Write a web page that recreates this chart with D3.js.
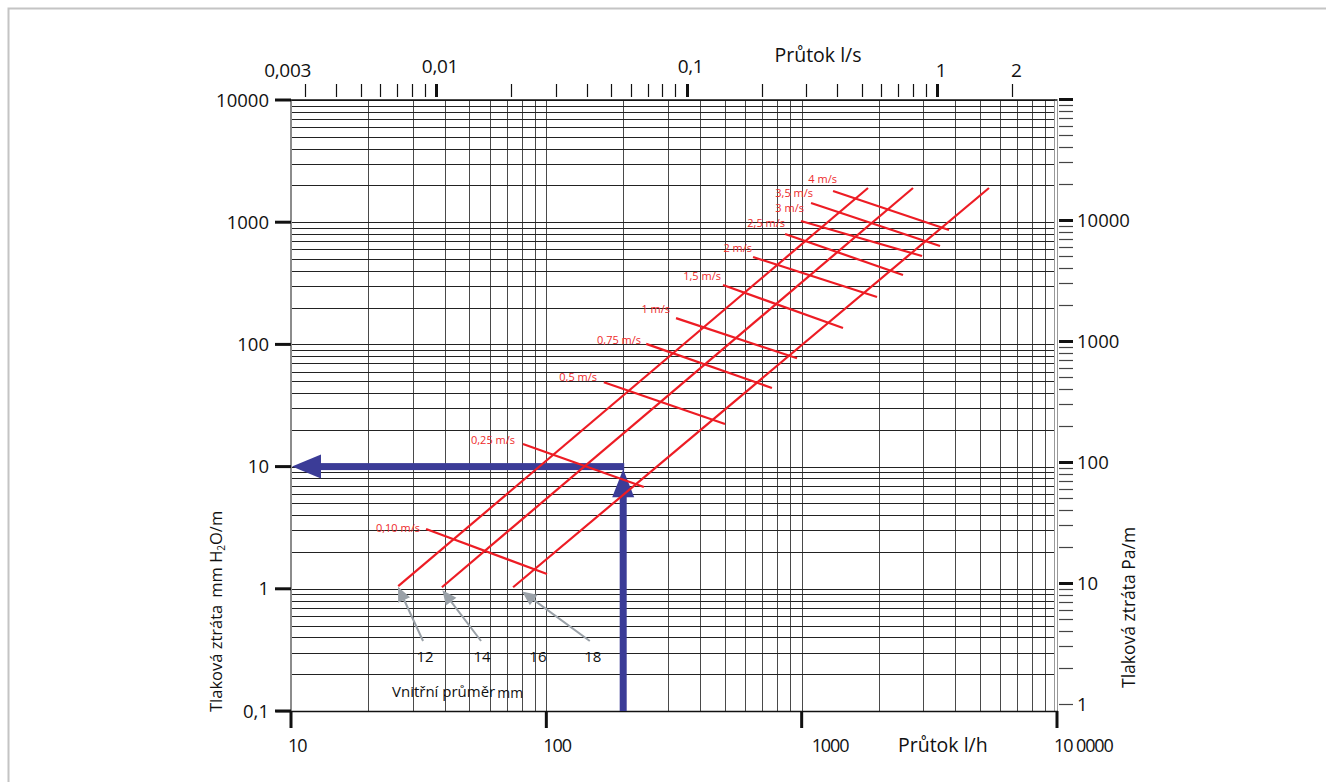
<!DOCTYPE html>
<meta charset="utf-8">
<style>
body { margin: 0; background: #fff; }
svg { font-family: "Open Sans", sans-serif; display: block; }
.grid-x line { stroke: #4a4a4a; stroke-width: 1; }
.grid-y line { stroke: #222; stroke-width: 1; }
.vel text { fill: #ee2b2b; font-size: 11px; }
</style>
<svg width="1326" height="782"></svg>
<script src="https://d3js.org/d3.v7.min.js"></script>
<script>

// axis ticks and labels
var flowTicks = [10, 100, 1000, 10000];
var flowLabels = ["10", "100", "1000", "10 0000"];
var lossTicks = [0.1, 1, 10, 100, 1000, 10000];
var lossLabels = ["0,1", "1", "10", "100", "1000", "10000"];
var paTicks = [1, 10, 100, 1000, 10000];
var paLabels = ["1", "10", "100", "1000", "10000"];
var lsLabelValues = [0.003, 0.01, 0.1, 1, 2];
var lsLabels = ["0,003", "0,01", "0,1", "1", "2"];

// pipe lines (inner diameter), flow l/h and loss mm H2O/m
var pipeFlowStart = [26.3, 39.0, 74.1];
var pipeFlowEnd = [1819, 2730, 5415];
var pipeLossStart = [1.05, 1.03, 1.03];
var pipeLossEnd = [1905, 1905, 1905];

// diameter labels and pointer arrows
var diamLabels = ["12", "14", "16", "18"];
var diamLabelFlow = [33.5, 56, 92.7, 152];
var diamLabelLoss = 0.25;
var pointerTailFlow = [32.9, 55.5, 148];
var pointerTailLoss = [0.374, 0.374, 0.374];
var pointerTipFlow = [26.5, 39.7, 81.8];
var pointerTipLoss = [0.996, 0.94, 0.925];

// velocity lines
var velLabels = ["0,10 m/s", "0,25 m/s", "0,5 m/s", "0,75 m/s", "1 m/s", "1,5 m/s",
                 "2 m/s", "2,5 m/s", "3 m/s", "3,5 m/s", "4 m/s"];
var velFlowStart = [33.8, 81, 168, 246, 322, 492, 645, 861, 994, 1088, 1327];
var velFlowEnd = [100.6, 241, 501, 765, 959, 1452, 1973, 2494, 2960, 3483, 3777];
var velLossStart = [3.09, 15.3, 49, 101, 164, 306, 519, 801, 1023, 1436, 1800];
var velLossEnd = [1.32, 6.8, 22.3, 44, 77, 136, 244, 370, 529, 639, 864];
var velLabelFlow = [32.0, 75.4, 158, 235, 305, 483, 639, 861, 1021, 1108, 1375];
var velLabelLoss = [3.14, 16.5, 54, 109, 195, 363, 615, 985, 1307, 1734, 2257];

// worked example
var exampleFlow = 200;
var exampleLoss = 10;
var exampleTipLoss = 9.5;

var svg = d3.select("svg");

var x = d3.scaleLog().domain([10, 10000]).range([291, 1057]);
var y = d3.scaleLog().domain([0.1, 10000]).range([711, 100]);
var yPa = d3.scaleLog().domain([1, 100000]).range([704, 99]);
var xTop = d3.scaleLog().domain([0.01, 1]).range([436, 937]);

function isDecade(v) {
  var l = Math.log10(v);
  return Math.abs(l - Math.round(l)) < 1e-6;
}
function px(v) { return Math.round(v) + 0.5; }

// page frame (top and left only)
svg.append("path")
    .attr("d", "M8.5,782V8.5H1326")
    .attr("fill", "none")
    .attr("stroke", "#c4c4c4")
    .attr("stroke-width", 2);

// grid
svg.append("g").attr("class", "grid-x")
  .selectAll("line")
  .data(x.ticks())
  .enter().append("line")
    .attr("x1", function(d) { return px(x(d)); })
    .attr("x2", function(d) { return px(x(d)); })
    .attr("y1", 100)
    .attr("y2", 711);

svg.append("g").attr("class", "grid-y")
  .selectAll("line")
  .data(y.ticks())
  .enter().append("line")
    .attr("x1", 291)
    .attr("x2", 1055)
    .attr("y1", function(d) { return px(y(d)); })
    .attr("y2", function(d) { return px(y(d)); });

// frame lines
svg.append("line").attr("x1", 291).attr("x2", 291).attr("y1", 100).attr("y2", 711)
    .attr("stroke", "#8c8c8c").attr("stroke-width", 2);
svg.append("line").attr("x1", 1054.5).attr("x2", 1054.5).attr("y1", 99).attr("y2", 711)
    .attr("stroke", "#999").attr("stroke-width", 1);
svg.append("line").attr("x1", 1057.5).attr("x2", 1057.5).attr("y1", 99).attr("y2", 711)
    .attr("stroke", "#999").attr("stroke-width", 1);
svg.append("line").attr("x1", 276).attr("x2", 1058).attr("y1", 711.5).attr("y2", 711.5)
    .attr("stroke", "#111").attr("stroke-width", 1.5);
svg.append("line").attr("x1", 291).attr("x2", 1057).attr("y1", 100).attr("y2", 100)
    .attr("stroke", "#111").attr("stroke-width", 1.5);

// left ticks + labels
var leftAxis = svg.append("g");
leftAxis.selectAll("line").data(lossTicks).enter().append("line")
    .attr("x1", 275).attr("x2", 291)
    .attr("y1", function(d) { return y(d); })
    .attr("y2", function(d) { return y(d); })
    .attr("stroke", "#111").attr("stroke-width", 3);
leftAxis.selectAll("text").data(lossTicks).enter().append("text")
    .attr("x", 269)
    .attr("y", function(d) { return y(d); })
    .attr("dy", "0.36em")
    .attr("text-anchor", "end")
    .attr("font-size", 18.5)
    .attr("fill", "#111")
    .text(function(d, i) { return lossLabels[i]; });

// bottom ticks + labels
var bottomAxis = svg.append("g");
bottomAxis.selectAll("line").data(flowTicks).enter().append("line")
    .attr("x1", function(d) { return x(d); })
    .attr("x2", function(d) { return x(d); })
    .attr("y1", 711).attr("y2", 728)
    .attr("stroke", "#111").attr("stroke-width", 3);
bottomAxis.selectAll("text").data(flowTicks).enter().append("text")
    .attr("x", function(d, i) { return x(d) + (i === 2 ? 10 : -3); })
    .attr("y", 752)
    .attr("font-size", 18)
    .attr("letter-spacing", -1.1)
    .attr("fill", "#111")
    .text(function(d, i) { return flowLabels[i]; });
svg.append("text")
    .attr("x", 898).attr("y", 752)
    .attr("font-size", 19.5)
    .attr("fill", "#111")
    .text("Průtok l/h");

// right ticks + labels (Pa/m)
var rightAxis = svg.append("g");
rightAxis.selectAll("line").data(yPa.ticks()).enter().append("line")
    .attr("x1", 1059).attr("x2", 1073)
    .attr("y1", function(d) { return px(yPa(d)); })
    .attr("y2", function(d) { return px(yPa(d)); })
    .attr("stroke", function(d) { return isDecade(d) && d > 1 ? "#111" : "#444"; })
    .attr("stroke-width", function(d) { return isDecade(d) && d > 1 ? 3 : 1.2; });
rightAxis.selectAll("text").data(paTicks).enter().append("text")
    .attr("x", 1077)
    .attr("y", function(d) { return yPa(d); })
    .attr("dy", "0.36em")
    .attr("font-size", 18.5)
    .attr("fill", "#111")
    .text(function(d, i) { return paLabels[i]; });

// top ticks + labels (l/s)
var topAxis = svg.append("g");
topAxis.selectAll("line").data(d3.scaleLog().domain([0.003, 2]).ticks()).enter().append("line")
    .attr("x1", function(d) { return px(xTop(d)); })
    .attr("x2", function(d) { return px(xTop(d)); })
    .attr("y1", 84).attr("y2", 97)
    .attr("stroke", "#111")
    .attr("stroke-width", function(d) { return isDecade(d) ? 3 : 1.2; });
topAxis.selectAll("text").data(lsLabelValues).enter().append("text")
    .attr("x", function(d, i) { return xTop(d) + (i === 0 ? 6 : 4); })
    .attr("y", function(d, i) { return i === 1 || i === 2 ? 73 : 77; })
    .attr("text-anchor", function(d, i) { return i === 0 ? "end" : "middle"; })
    .attr("font-size", 19)
    .attr("letter-spacing", -0.3)
    .attr("fill", "#111")
    .text(function(d, i) { return lsLabels[i]; });
svg.append("text")
    .attr("x", 818).attr("y", 62)
    .attr("text-anchor", "middle")
    .attr("font-size", 19.5)
    .attr("fill", "#111")
    .text("Průtok  l/s");

// axis titles
var lt = svg.append("text")
    .attr("transform", "translate(222,712) rotate(-90)")
    .attr("font-size", 16.5)
    .attr("fill", "#111");
lt.append("tspan").text("Tlaková ztráta");
lt.append("tspan").attr("dx", 7).text("mm H");
lt.append("tspan").attr("font-size", 10).attr("dy", 3).text("2");
lt.append("tspan").attr("dy", -3).text("O/m");

svg.append("text")
    .attr("transform", "translate(1135,688) rotate(-90)")
    .attr("font-size", 17.5)
    .attr("fill", "#111")
    .text("Tlaková ztráta Pa/m");

// worked example (blue arrows)
var blue = "#3b3c97";
var ex = x(exampleFlow), ey = y(exampleLoss), x0 = x(10), yb = y(0.1);
svg.append("rect")
    .attr("x", x0 + 28).attr("y", ey - 3.5)
    .attr("width", ex + 1 - (x0 + 28)).attr("height", 7)
    .attr("fill", blue);
svg.append("path")
    .attr("d", "M" + (x0 + 1) + "," + ey + "L" + (x0 + 30) + "," + (ey - 12) + "L" + (x0 + 30) + "," + (ey + 12) + "Z")
    .attr("fill", blue);
var tipY = y(exampleTipLoss);
svg.append("rect")
    .attr("x", ex - 3.5).attr("y", tipY + 26)
    .attr("width", 7).attr("height", yb - (tipY + 26))
    .attr("fill", blue);
svg.append("path")
    .attr("d", "M" + ex + "," + tipY + "L" + (ex - 11) + "," + (tipY + 28) + "L" + (ex + 11) + "," + (tipY + 28) + "Z")
    .attr("fill", blue);

// red pipe lines
var red = "#ed1c24";
svg.append("g").selectAll("line").data(pipeFlowStart).enter().append("line")
    .attr("x1", function(d) { return x(d); })
    .attr("y1", function(d, i) { return y(pipeLossStart[i]); })
    .attr("x2", function(d, i) { return x(pipeFlowEnd[i]); })
    .attr("y2", function(d, i) { return y(pipeLossEnd[i]); })
    .attr("stroke", red).attr("stroke-width", 2.2);

// velocity lines + labels
var vel = svg.append("g").attr("class", "vel");
vel.selectAll("line").data(velFlowStart).enter().append("line")
    .attr("x1", function(d) { return x(d); })
    .attr("y1", function(d, i) { return y(velLossStart[i]); })
    .attr("x2", function(d, i) { return x(velFlowEnd[i]); })
    .attr("y2", function(d, i) { return y(velLossEnd[i]); })
    .attr("stroke", red).attr("stroke-width", 2.2);
vel.selectAll("text").data(velLabels).enter().append("text")
    .attr("x", function(d, i) { return x(velLabelFlow[i]); })
    .attr("y", function(d, i) { return y(velLabelLoss[i]); })
    .attr("dy", "0.35em")
    .attr("text-anchor", "end")
    .text(function(d) { return d; });

// gray pointers to pipe lines
var gray = "#9aa1a8";
var ptr = svg.append("g");
ptr.selectAll("path").data(pointerTipFlow).enter().append("path")
    .attr("d", function(d, i) {
      var tx = x(d), ty = y(pointerTipLoss[i]);
      var sx = x(pointerTailFlow[i]), sy = y(pointerTailLoss[i]);
      var a = Math.atan2(ty - sy, tx - sx), L = 11, W = 5;
      var bx = tx - L * Math.cos(a), by = ty - L * Math.sin(a);
      var nx = -Math.sin(a) * W, ny = Math.cos(a) * W;
      return "M" + sx + "," + sy + "L" + bx + "," + by +
             "M" + tx + "," + ty + "L" + (bx + nx) + "," + (by + ny) + "L" + (bx - nx) + "," + (by - ny) + "Z";
    })
    .attr("stroke", gray).attr("stroke-width", 2).attr("fill", gray);

ptr.selectAll("text").data(diamLabels).enter().append("text")
    .attr("x", function(d, i) { return x(diamLabelFlow[i]); })
    .attr("y", y(diamLabelLoss))
    .attr("text-anchor", "middle")
    .attr("font-size", 15)
    .attr("fill", "#111")
    .text(function(d) { return d; });

var vp = svg.append("text")
    .attr("x", 392).attr("y", 697)
    .attr("font-size", 15)
    .attr("fill", "#111");
vp.append("tspan").text("Vnitřní průměr");
vp.append("tspan").attr("dx", 2).attr("dy", 1).attr("font-size", 14).text("mm");

</script>
